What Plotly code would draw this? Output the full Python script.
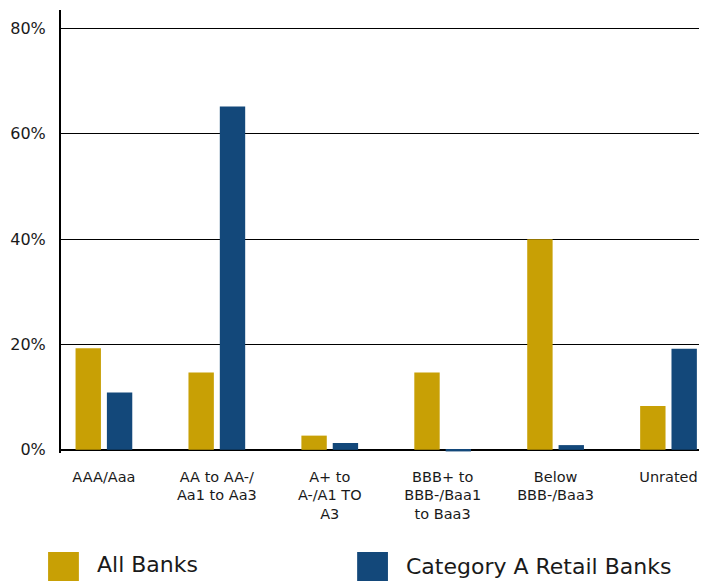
import plotly.graph_objects as go

categories = ["AAA/Aaa", "AA to AA-/<br>Aa1 to Aa3", "A+ to<br>A-/A1 TO<br>A3",
              "BBB+ to<br>BBB-/Baa1<br>to Baa3", "Below<br>BBB-/Baa3", "Unrated"]
all_banks = [19.3, 14.7, 2.7, 14.7, 40.0, 8.3]
cat_a_retail = [10.9, 65.2, 1.3, -0.3, 0.9, 19.2]
y_tickvals = [0, 20, 40, 60, 80]
y_ticktext = ["0%", "20%", "40%", "60%", "80%"]

GOLD = "#C8A005"
BLUE = "#13487A"

W, H = 718, 582
L, R, T, B = 57, 19, 10, 129
PW, PH = W - L - R, H - T - B


def px(x):
    return (x - L) / PW


def py(y):
    return (H - B - y) / PH


fig = go.Figure()
fig.add_trace(go.Bar(x=categories, y=all_banks, name="All Banks",
                     marker=dict(color=GOLD, line=dict(width=0))))
fig.add_trace(go.Bar(x=categories, y=cat_a_retail, name="Category A Retail Banks",
                     marker=dict(color=BLUE, line=dict(width=0))))

# custom legend (large squares)
legend_items = [
    ("All Banks", GOLD, 44, 552, 91, 564),
    ("Category A Retail Banks", BLUE, 355, 552, 402, 566),
]
for label, color, sx, sy, tx, ty in legend_items:
    fig.add_shape(type="rect", xref="paper", yref="paper",
                  x0=px(sx), x1=px(sx + 31), y0=py(sy + 29), y1=py(sy),
                  fillcolor=color, line=dict(width=0))
    fig.add_annotation(xref="paper", yref="paper", x=px(tx), y=py(ty),
                       text=label, showarrow=False, xanchor="left", yanchor="middle",
                       font=dict(family="DejaVu Sans", size=22, color="#1a1a1a"))

fig.update_layout(
    width=W, height=H,
    margin=dict(l=L, r=R, t=T, b=B, pad=0),
    paper_bgcolor="white", plot_bgcolor="white",
    barmode="group", bargap=0.445, bargroupgap=0.19,
    showlegend=False,
    font=dict(family="DejaVu Sans", color="#1a1a1a"),
)
fig.update_xaxes(
    type="category", range=[-0.38, 5.27],
    showgrid=False, showline=False, zeroline=False, ticks="",
    tickfont=dict(family="DejaVu Sans", size=14.5, color="#1a1a1a"),
    ticklabelstandoff=13, tickangle=0,
)
fig.update_yaxes(
    range=[-0.6, 83.5],
    tickvals=y_tickvals, ticktext=y_ticktext,
    showgrid=True, gridcolor="black", gridwidth=1.3,
    zeroline=True, zerolinecolor="black", zerolinewidth=2,
    showline=True, linecolor="black", linewidth=2,
    ticks="", ticklabelstandoff=10,
    tickfont=dict(family="DejaVu Sans", size=16, color="#1a1a1a"),
)

fig.write_html(
    "out.html",
    config={"displayModeBar": False},
    post_script="document.body.style.margin='0';document.body.style.overflow='hidden';",
)
